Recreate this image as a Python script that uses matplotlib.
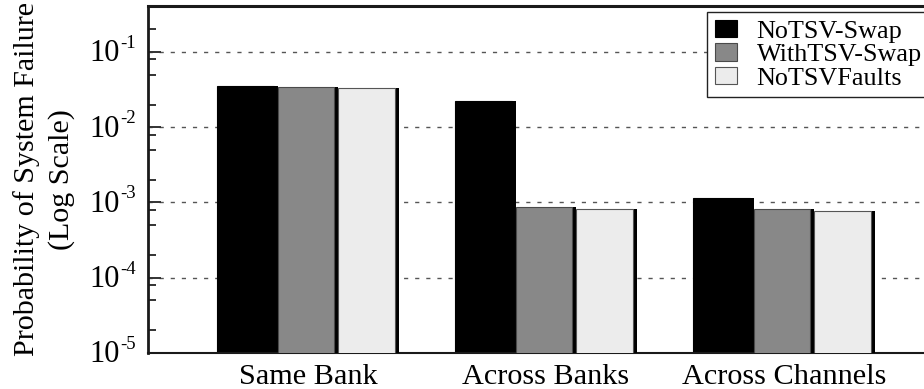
import numpy as np
import matplotlib
matplotlib.use("Agg")
import matplotlib.pyplot as plt
from matplotlib.ticker import LogLocator, NullFormatter

plt.rcParams["font.family"] = ["Liberation Serif", "DejaVu Serif"]

# data
groups = ["Same Bank", "Across Banks", "Across Channels"]
series = ["NoTSV-Swap", "WithTSV-Swap", "NoTSVFaults"]
no_tsv_swap = [0.035, 0.0221, 0.00116]
with_tsv_swap = [0.034, 0.00087, 0.00081]
no_tsv_faults = [0.0327, 0.00082, 0.00078]
ytick_exps = [-1, -2, -3, -4, -5]

values = [no_tsv_swap, with_tsv_swap, no_tsv_faults]
colors = ["#000000", "#888888", "#ececec"]
edges = ["#000000", "#4a4a4a", "#555555"]

fig = plt.figure(figsize=(9.24, 3.89), dpi=100)
ax = fig.add_axes([148 / 924, 36 / 389, 1 - 148 / 924, 347 / 389])

x = np.arange(len(groups))
slot = 0.255
px = 1 / 238.0  # one pixel in x data units
shadow = 4 * px

# grid first so bars cover it
for e in ytick_exps[:-1]:
    ax.axhline(10.0 ** e, color="#555555", lw=1.0, ls=(0, (3.0, 5.0)), zorder=0)

handles = []
for i, (vals, c, ec) in enumerate(zip(values, colors, edges)):
    left = x + (i - 1.5) * slot
    ax.bar(left + shadow, vals, width=slot - shadow, align="edge",
           color="black", lw=0, zorder=2 + i)
    h = ax.bar(left, vals, width=slot - shadow, align="edge", color=c,
               edgecolor=ec, lw=0.8, zorder=2 + i, label=series[i])
    handles.append(h)

ax.set_yscale("log")
ax.set_ylim(1e-5, 0.408)
ax.set_xlim(-0.672, 2.588)

ax.set_yticks([10.0 ** e for e in ytick_exps])
ax.yaxis.set_minor_locator(LogLocator(base=10, subs=(2, 5, 8)))
ax.yaxis.set_major_formatter(NullFormatter())
ax.yaxis.set_minor_formatter(NullFormatter())
ax.tick_params(axis="y", which="major", direction="in", length=9, width=1.4,
               color="#333333")
ax.tick_params(axis="y", which="minor", direction="in", length=6, width=1.4,
               color="#333333")

# gnuplot style "10^-k" labels
ytr = ax.get_yaxis_transform()
for e in ytick_exps:
    ax.annotate("10", xy=(0, 10.0 ** e), xycoords=ytr, xytext=(-28, -2),
                textcoords="offset pixels", ha="right", va="center",
                fontsize=22, annotation_clip=False)
    ax.annotate(str(e), xy=(0, 10.0 ** e), xycoords=ytr, xytext=(-28, 4),
                textcoords="offset pixels", ha="left", va="baseline",
                fontsize=13.5, annotation_clip=False)

ax.set_xticks(x)
ax.set_xticklabels(groups, fontsize=21.8)
ax.tick_params(axis="x", length=0, pad=8)

ax.set_ylabel("Probability of System Failure\n(Log Scale)", fontsize=21.6,
              linespacing=1.4, va="center")
ax.yaxis.set_label_coords(-104 / 776, 0.5)

ax.spines["right"].set_visible(False)
ax.spines["top"].set_linewidth(2.2)
ax.spines["left"].set_linewidth(2.0)
ax.spines["bottom"].set_linewidth(1.5)
for s in ["top", "left", "bottom"]:
    ax.spines[s].set_color("#1a1a1a")

leg = ax.legend(handles=handles, loc="upper left",
                bbox_to_anchor=(707 / 924, 1 - 12 / 389),
                bbox_transform=fig.transFigure, fontsize=18.8, frameon=True,
                fancybox=False, framealpha=1, edgecolor="#222222",
                borderaxespad=0, borderpad=0.3, handlelength=0.85,
                handleheight=0.65, handletextpad=0.75, labelspacing=0.02)
leg.get_frame().set_linewidth(1.0)
leg.set_zorder(10)

fig.savefig("out.png", dpi=100)
